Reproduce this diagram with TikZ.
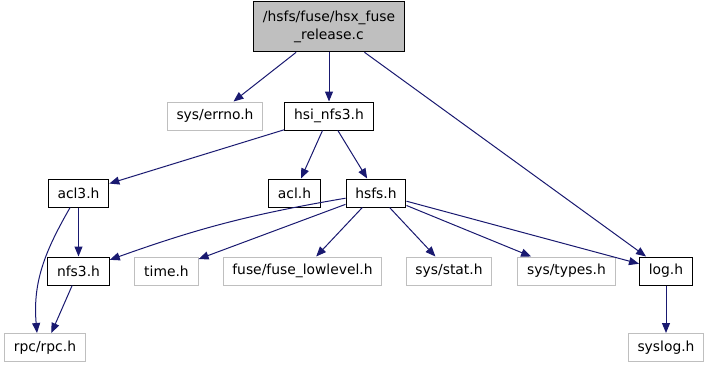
\documentclass[tikz,border=0pt]{standalone}
\usepackage{fontspec}
\setmainfont{DejaVu Sans}
\usetikzlibrary{arrows.meta}
\definecolor{edgeblue}{HTML}{191970}
\definecolor{extgray}{HTML}{BFBFBF}
\tikzset{
  hdr/.style={draw=black, line width=0.75pt, inner xsep=7pt, inner ysep=0pt,
    minimum height=21pt, font=\fontsize{10.4}{13.5}\selectfont},
  syshdr/.style={hdr, draw=extgray},
  dep/.style={->, draw=edgeblue, line width=0.75pt},
}
\begin{document}
\begin{tikzpicture}[x=0.75pt,y=0.75pt,>={Triangle[length=7.5pt,width=6pt]}]
  \useasboundingbox (0,0) rectangle (709,-368);
  % source file
  \node[hdr, fill=extgray, align=center, minimum width=112.5pt, minimum height=38pt]
    (root) at (329,-26.5) {/hsfs/fuse/hsx\_fuse\\\_release.c};
  % first level
  \node[syshdr] (errno) at (215,-116) {sys/errno.h};
  \node[hdr] (hsinfs) at (329,-116) {hsi\_nfs3.h};
  % second level
  \node[hdr] (aclthree) at (78.5,-193) {acl3.h};
  \node[hdr] (acl) at (294.5,-193) {acl.h};
  \node[hdr] (hsfs) at (376,-193) {hsfs.h};
  % third level
  \node[hdr] (nfsthree) at (78.5,-271) {nfs3.h};
  \node[syshdr] (time) at (166.5,-271) {time.h};
  \node[syshdr] (lowlevel) at (302.5,-271) {fuse/fuse\_lowlevel.h};
  \node[syshdr] (stat) at (449,-271) {sys/stat.h};
  \node[syshdr] (types) at (566.5,-271) {sys/types.h};
  \node[hdr] (log) at (666,-271) {log.h};
  % bottom
  \node[syshdr] (rpc) at (45,-347.5) {rpc/rpc.h};
  \node[syshdr] (syslog) at (666,-347.5) {syslog.h};

  \draw[dep] (root) -- (errno);
  \draw[dep] (root) -- (hsinfs);
  \draw[dep] (root) -- (log);
  \draw[dep] (hsinfs) -- (aclthree);
  \draw[dep] (hsinfs) -- (acl);
  \draw[dep] (hsinfs) -- (hsfs);
  \draw[dep] (aclthree) -- (nfsthree);
  \draw[dep] (aclthree) to[out=-120,in=95] ([xshift=-6pt]rpc.north);
  \draw[dep] (nfsthree) -- (rpc);
  \draw[dep] (hsfs) to[bend right=5] (nfsthree);
  \foreach \t in {time,lowlevel,stat,types,log}
    \draw[dep] (hsfs) -- (\t);
  \draw[dep] (log) -- (syslog);
\end{tikzpicture}
\end{document}
